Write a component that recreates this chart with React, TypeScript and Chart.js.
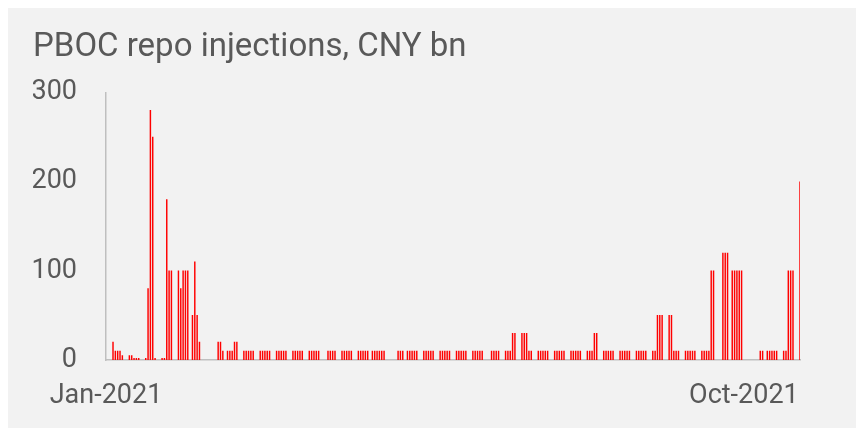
import React, { useEffect, useRef } from "react";
import { Chart, registerables } from "chart.js";

Chart.register(...registerables);

// Operation dates (2021) and PBOC reverse repo injection amounts, CNY bn
const opDates: string[] = [
  "2021-01-04", "2021-01-05", "2021-01-06", "2021-01-07", "2021-01-08",
  "2021-01-11", "2021-01-12", "2021-01-13", "2021-01-14", "2021-01-15",
  "2021-01-18", "2021-01-19", "2021-01-20", "2021-01-21", "2021-01-22",
  "2021-01-25", "2021-01-26", "2021-01-27", "2021-01-28", "2021-01-29",
  "2021-02-01", "2021-02-02", "2021-02-03", "2021-02-04", "2021-02-05",
  "2021-02-07", "2021-02-08", "2021-02-09", "2021-02-10",
  "2021-02-18", "2021-02-19", "2021-02-20",
  "2021-02-22", "2021-02-23", "2021-02-24", "2021-02-25", "2021-02-26",
  "2021-03-01", "2021-03-02", "2021-03-03", "2021-03-04", "2021-03-05",
  "2021-03-08", "2021-03-09", "2021-03-10", "2021-03-11", "2021-03-12",
  "2021-03-15", "2021-03-16", "2021-03-17", "2021-03-18", "2021-03-19",
  "2021-03-22", "2021-03-23", "2021-03-24", "2021-03-25", "2021-03-26",
  "2021-03-29", "2021-03-30", "2021-03-31", "2021-04-01", "2021-04-02",
  "2021-04-06", "2021-04-07", "2021-04-08", "2021-04-09",
  "2021-04-12", "2021-04-13", "2021-04-14", "2021-04-15", "2021-04-16",
  "2021-04-19", "2021-04-20", "2021-04-21", "2021-04-22", "2021-04-23",
  "2021-04-25", "2021-04-26", "2021-04-27", "2021-04-28", "2021-04-29", "2021-04-30",
  "2021-05-06", "2021-05-07", "2021-05-08",
  "2021-05-10", "2021-05-11", "2021-05-12", "2021-05-13", "2021-05-14",
  "2021-05-17", "2021-05-18", "2021-05-19", "2021-05-20", "2021-05-21",
  "2021-05-24", "2021-05-25", "2021-05-26", "2021-05-27", "2021-05-28",
  "2021-05-31", "2021-06-01", "2021-06-02", "2021-06-03", "2021-06-04",
  "2021-06-07", "2021-06-08", "2021-06-09", "2021-06-10", "2021-06-11",
  "2021-06-15", "2021-06-16", "2021-06-17", "2021-06-18",
  "2021-06-21", "2021-06-22", "2021-06-23", "2021-06-24", "2021-06-25",
  "2021-06-28", "2021-06-29", "2021-06-30", "2021-07-01", "2021-07-02",
  "2021-07-05", "2021-07-06", "2021-07-07", "2021-07-08", "2021-07-09",
  "2021-07-12", "2021-07-13", "2021-07-14", "2021-07-15", "2021-07-16",
  "2021-07-19", "2021-07-20", "2021-07-21", "2021-07-22", "2021-07-23",
  "2021-07-26", "2021-07-27", "2021-07-28", "2021-07-29", "2021-07-30",
  "2021-08-02", "2021-08-03", "2021-08-04", "2021-08-05", "2021-08-06",
  "2021-08-09", "2021-08-10", "2021-08-11", "2021-08-12", "2021-08-13",
  "2021-08-16", "2021-08-17", "2021-08-18", "2021-08-19", "2021-08-20",
  "2021-08-23", "2021-08-24", "2021-08-25", "2021-08-26", "2021-08-27",
  "2021-08-30", "2021-08-31", "2021-09-01", "2021-09-02", "2021-09-03",
  "2021-09-06", "2021-09-07", "2021-09-08", "2021-09-09", "2021-09-10",
  "2021-09-13", "2021-09-14", "2021-09-15", "2021-09-16", "2021-09-17", "2021-09-18",
  "2021-09-22", "2021-09-23", "2021-09-24",
  "2021-09-26", "2021-09-27", "2021-09-28", "2021-09-29", "2021-09-30",
  "2021-10-08", "2021-10-09",
  "2021-10-11", "2021-10-12", "2021-10-13", "2021-10-14", "2021-10-15",
  "2021-10-18", "2021-10-19", "2021-10-20", "2021-10-21", "2021-10-22",
  "2021-10-25",
];

const opValues: number[] = [
  20, 10, 10, 10, 5,
  5, 5, 2, 2, 2,
  2, 80, 280, 250, 2,
  2, 2, 180, 100, 100,
  100, 80, 100, 100, 100,
  50, 110, 50, 20,
  20, 20, 10,
  10, 10, 10, 20, 20,
  10, 10, 10, 10, 10,
  10, 10, 10, 10, 10,
  10, 10, 10, 10, 10,
  10, 10, 10, 10, 10,
  10, 10, 10, 10, 10,
  10, 10, 10, 10,
  10, 10, 10, 10, 10,
  10, 10, 10, 10, 10,
  10, 10, 10, 10, 10, 10,
  10, 10, 10,
  10, 10, 10, 10, 10,
  10, 10, 10, 10, 10,
  10, 10, 10, 10, 10,
  10, 10, 10, 10, 10,
  10, 10, 10, 10, 10,
  10, 10, 10, 10,
  10, 10, 10, 30, 30,
  30, 30, 30, 10, 10,
  10, 10, 10, 10, 10,
  10, 10, 10, 10, 10,
  10, 10, 10, 10, 10,
  10, 10, 10, 30, 30,
  10, 10, 10, 10, 10,
  10, 10, 10, 10, 10,
  10, 10, 10, 10, 10,
  10, 10, 50, 50, 50,
  50, 50, 10, 10, 10,
  10, 10, 10, 10, 10,
  10, 10, 10, 10, 100, 100,
  120, 120, 120,
  100, 100, 100, 100, 100,
  10, 10,
  10, 10, 10, 10, 10,
  10, 10, 100, 100, 100,
  200,
];

const axisStart = "2021-01-01";
const axisEnd = "2021-10-25";
const xTickDates: string[] = ["2021-01-01", "2021-10-01"];
const xTickLabels: string[] = ["Jan-2021", "Oct-2021"];
const yTicks: number[] = [0, 100, 200, 300];
const titleText = "PBOC repo injections, CNY bn";

const DAY = 86400000;
const dayIndex = (d: string) =>
  Math.round((Date.parse(d + "T00:00:00Z") - Date.parse(axisStart + "T00:00:00Z")) / DAY);

const FONT = "Roboto, 'Open Sans', sans-serif";
const TEXT = "#595959";
const AXIS = "#bfbfbf";

export default function App() {
  const ref = useRef<HTMLCanvasElement | null>(null);

  useEffect(() => {
    const canvas = ref.current;
    if (!canvas) return;
    const points = opDates.map((d, i) => ({ x: dayIndex(d), y: opValues[i] }));
    const tickIdx = xTickDates.map(dayIndex);

    const chart = new Chart(canvas, {
      type: "bar",
      data: {
        datasets: [
          {
            data: points as any,
            backgroundColor: "#ff0000",
            borderWidth: 0,
            barThickness: 0.8,
          },
        ],
      },
      options: {
        animation: false,
        responsive: false,
        maintainAspectRatio: false,
        layout: { padding: { left: 25, right: 56, top: 0, bottom: 0 } },
        plugins: {
          legend: { display: false },
          tooltip: { enabled: false },
          title: {
            display: true,
            text: titleText,
            align: "start",
            color: TEXT,
            font: { family: FONT, size: 33, weight: "normal" },
            padding: { top: 20, bottom: 25 },
          },
        },
        scales: {
          x: {
            type: "linear",
            min: 0,
            max: dayIndex(axisEnd),
            offset: false,
            grid: { display: false, drawTicks: false },
            border: { display: true, color: AXIS, width: 1.5 },
            afterBuildTicks: (s: any) => {
              s.ticks = tickIdx.map((v) => ({ value: v }));
            },
            ticks: {
              autoSkip: false,
              maxRotation: 0,
              color: TEXT,
              padding: 20,
              font: { family: FONT, size: 27 },
              callback: (v: any) => {
                const k = tickIdx.indexOf(Number(v));
                return k >= 0 ? xTickLabels[k] : "";
              },
            },
            afterFit: (s: any) => {
              s.height = 68;
            },
          },
          y: {
            min: 0,
            max: 300,
            grid: { display: false, drawTicks: false },
            border: { display: true, color: AXIS, width: 1.5 },
            afterBuildTicks: (s: any) => {
              s.ticks = yTicks.map((v) => ({ value: v }));
            },
            ticks: {
              color: TEXT,
              padding: 29,
              font: { family: FONT, size: 27 },
            },
            afterFit: (s: any) => {
              s.width = 73;
            },
          },
        },
      },
    });
    return () => chart.destroy();
  }, []);

  return (
    <div
      style={{
        position: "fixed",
        left: 8,
        top: 8,
        width: 848,
        height: 420,
        background: "#f2f2f2",
      }}
    >
      <canvas ref={ref} width={848} height={420} style={{ display: "block" }} />
    </div>
  );
}
